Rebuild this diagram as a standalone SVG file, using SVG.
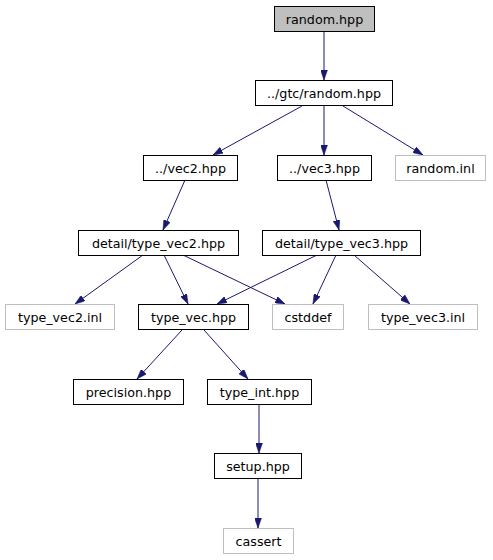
<svg xmlns="http://www.w3.org/2000/svg" width="493" height="560" viewBox="0 0 493 560">
<style>
.n rect{fill:#fff;stroke:#000;stroke-width:1}
.x rect{fill:#fff;stroke:#bfbfbf;stroke-width:1}
.r rect{fill:#bfbfbf}
text{font-family:"DejaVu Sans",sans-serif;font-size:12.7px;text-anchor:middle;fill:#000}
.e path{fill:none;stroke:#191970;stroke-width:1;marker-end:url(#a)}
</style>
<defs>
<marker id="a" viewBox="0 0 10 7" refX="10" refY="3.5" markerWidth="10" markerHeight="7" markerUnits="userSpaceOnUse" orient="auto">
<path d="M0,0 L10,3.5 L0,7 z" fill="#191970" stroke="#191970" stroke-width="0.5"/>
</marker>
</defs>
<rect width="493" height="560" fill="#fff"/>
<g class="e" id="edges">
<path d="M324,31 L324,80"/>
<path d="M302,106 L213,155"/>
<path d="M324,106 L324,155"/>
<path d="M343,106 L423,155"/>
<path d="M185,180 L163,230"/>
<path d="M326,180 L339,230"/>
<path d="M143,255 L75,304"/>
<path d="M164,255 L188,304"/>
<path d="M183,255 L285,304"/>
<path d="M317,255 L217,304"/>
<path d="M336,255 L313,304"/>
<path d="M354,255 L410,304"/>
<path d="M182,330 L137,379"/>
<path d="M204,330 L248,379"/>
<path d="M259,404 L259,453"/>
<path d="M258,479 L258,528"/>
</g>
<g id="n1" class="n r"><rect x="274.5" y="6.5" width="100" height="25"/><text x="324.5" y="23.5">random.hpp</text></g>
<g id="n2" class="n"><rect x="255.5" y="80.5" width="137" height="25"/><text x="324" y="97.5">../gtc/random.hpp</text></g>
<g id="n3" class="n"><rect x="143.5" y="155.5" width="94" height="25"/><text x="190.5" y="172.5">../vec2.hpp</text></g>
<g id="n4" class="n"><rect x="277.5" y="155.5" width="94" height="25"/><text x="324.5" y="172.5">../vec3.hpp</text></g>
<g id="n5" class="x"><rect x="395.5" y="155.5" width="90" height="25"/><text x="440.5" y="172.5">random.inl</text></g>
<g id="n6" class="n"><rect x="78.5" y="230.5" width="160" height="25"/><text x="158.5" y="247.5">detail/type_vec2.hpp</text></g>
<g id="n7" class="n"><rect x="262.5" y="230.5" width="158" height="25"/><text x="341.5" y="247.5">detail/type_vec3.hpp</text></g>
<g id="n8" class="x"><rect x="5.5" y="304.5" width="109" height="25"/><text x="60" y="321.5">type_vec2.inl</text></g>
<g id="n9" class="n"><rect x="138.5" y="304.5" width="110" height="25"/><text x="193.5" y="321.5">type_vec.hpp</text></g>
<g id="n10" class="x"><rect x="272.5" y="304.5" width="71" height="25"/><text x="308" y="321.5">cstddef</text></g>
<g id="n11" class="x"><rect x="368.5" y="304.5" width="109" height="25"/><text x="423" y="321.5">type_vec3.inl</text></g>
<g id="n12" class="n"><rect x="73.5" y="379.5" width="110" height="25"/><text x="128.5" y="396.5">precision.hpp</text></g>
<g id="n13" class="n"><rect x="207.5" y="379.5" width="104" height="25"/><text x="259.5" y="396.5">type_int.hpp</text></g>
<g id="n14" class="n"><rect x="214.5" y="453.5" width="87" height="25"/><text x="258" y="470.5">setup.hpp</text></g>
<g id="n15" class="x"><rect x="223.5" y="528.5" width="70" height="25"/><text x="258.5" y="545.5">cassert</text></g>
</svg>
